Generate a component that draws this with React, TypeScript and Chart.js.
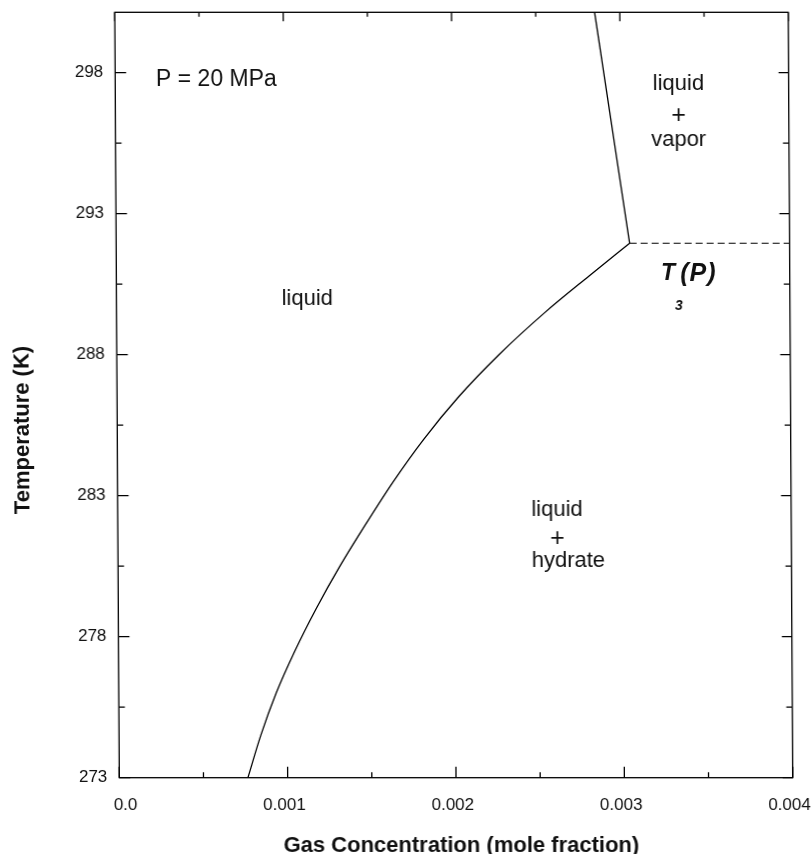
import React, { useEffect, useRef } from 'react';
import { Chart, registerables } from 'chart.js';

Chart.register(...registerables);

// Hydrate–liquid equilibrium curve (gas mole fraction vs temperature)
const hydrateConc = [0.000764, 0.000842, 0.000935, 0.001048, 0.001176, 0.001318, 0.001474, 0.001638, 0.00182, 0.002028, 0.00227, 0.002545, 0.00281, 0.00305];
const hydrateTemp = [273, 274.5, 276, 277.5, 279, 280.5, 282, 283.5, 285, 286.5, 288, 289.5, 290.8, 291.95];
// Liquid–vapor boundary
const vaporConc = [0.00285, 0.00305];
const vaporTemp = [300.14, 291.95];
// Three-phase temperature T3(P)
const tripleConc = [0.00305, 0.004];
const tripleTemp = [291.95, 291.95];

const xRange = [0, 0.004];
const yRange = [273, 300.14];
const xTicks = [0, 0.0005, 0.001, 0.0015, 0.002, 0.0025, 0.003, 0.0035, 0.004];
const xMajor = [0, 0.001, 0.002, 0.003, 0.004];
const xLabels = ['0.0', '0.001', '0.002', '0.003', '0.004'];
const yTicks = [273, 275.5, 278, 280.5, 283, 285.5, 288, 290.5, 293, 295.5, 298];
const yMajor = [273, 278, 283, 288, 293, 298];
const yLabels = ['273', '278', '283', '288', '293', '298'];

const xTitle = 'Gas Concentration (mole fraction)';
const yTitle = 'Temperature (K)';

const FONT = '"Liberation Sans", Arial, Helvetica, sans-serif';

const pts = (xs: number[], ys: number[]) => xs.map((v, i) => ({ x: v, y: ys[i] }));
const idx = (arr: number[], v: number) => arr.findIndex((a) => Math.abs(a - v) < 1e-9);

const framePlugin = {
  id: 'frameAndText',
  afterDraw(chart: any) {
    const { ctx, chartArea, scales } = chart;
    const { left, right, top, bottom } = chartArea;
    const xs = scales.x;
    const ys = scales.y;
    ctx.save();
    ctx.strokeStyle = '#000';
    ctx.lineWidth = 1.3;
    ctx.strokeRect(left, top, right - left, bottom - top);
    ctx.beginPath();
    xTicks.forEach((v) => {
      const px = xs.getPixelForValue(v);
      const major = idx(xMajor, v) >= 0;
      ctx.moveTo(px, bottom);
      ctx.lineTo(px, bottom - (major ? 11 : 5.5));
      ctx.moveTo(px, top);
      ctx.lineTo(px, top + (major ? 9 : 4.5));
    });
    yTicks.forEach((v) => {
      const py = ys.getPixelForValue(v);
      const major = idx(yMajor, v) >= 0;
      ctx.moveTo(left, py);
      ctx.lineTo(left + (major ? 11 : 6), py);
      ctx.moveTo(right, py);
      ctx.lineTo(right - (major ? 10 : 6), py);
    });
    ctx.stroke();

    ctx.fillStyle = '#111';
    // axis titles
    ctx.font = `bold 22px ${FONT}`;
    ctx.textAlign = 'center';
    ctx.textBaseline = 'alphabetic';
    ctx.fillText(xTitle, (left + right) / 2 + 5, 851.5);
    ctx.save();
    ctx.translate(24.5, 430);
    ctx.rotate(-Math.PI / 2);
    ctx.textBaseline = 'middle';
    ctx.fillText(yTitle, 0, 0);
    ctx.restore();

    const X = (v: number) => xs.getPixelForValue(v);
    const Y = (v: number) => ys.getPixelForValue(v);

    // region annotations
    ctx.textAlign = 'left';
    ctx.textBaseline = 'alphabetic';
    ctx.font = `23px ${FONT}`;
    ctx.fillText('P = 20 MPa', X(0.000242), Y(297.53));
    ctx.font = `22px ${FONT}`;
    ctx.fillText('liquid', X(0.000981), Y(289.77));
    ctx.fillText('liquid', X(0.002457), Y(282.29));
    ctx.fillText('hydrate', X(0.002457), Y(280.46));
    ctx.textAlign = 'center';
    ctx.fillText('liquid', X(0.003345), Y(297.37));
    ctx.fillText('vapor', X(0.003345), Y(295.41));
    ctx.font = `25px ${FONT}`;
    ctx.textBaseline = 'middle';
    ctx.fillText('+', X(0.003345), Y(296.47));
    ctx.fillText('+', X(0.002611), Y(281.46));

    // T3(P)
    ctx.textAlign = 'left';
    ctx.textBaseline = 'alphabetic';
    ctx.font = `italic bold 23px ${FONT}`;
    ctx.fillText('T', X(0.003235), Y(290.65));
    ctx.font = `italic bold 25px ${FONT}`;
    ctx.save();
    try { (ctx as any).letterSpacing = '1px'; } catch (e) {}
    ctx.fillText('(P)', X(0.003350), Y(290.62));
    ctx.restore();
    ctx.font = `italic bold 14px ${FONT}`;
    ctx.fillText('3', X(0.003317), Y(289.6));
    ctx.restore();
  },
};

export default function App() {
  const ref = useRef<HTMLCanvasElement | null>(null);
  useEffect(() => {
    if (!ref.current) return;
    const chart = new Chart(ref.current, {
      type: 'scatter',
      data: {
        datasets: [
          {
            label: 'hydrate',
            data: pts(hydrateConc, hydrateTemp),
            showLine: true,
            borderColor: '#000',
            borderWidth: 1.3,
            pointRadius: 0,
            cubicInterpolationMode: 'monotone',
          },
          {
            label: 'vapor',
            data: pts(vaporConc, vaporTemp),
            showLine: true,
            borderColor: '#000',
            borderWidth: 1.3,
            pointRadius: 0,
          },
          {
            label: 'T3',
            data: pts(tripleConc, tripleTemp),
            showLine: true,
            borderColor: '#000',
            borderWidth: 1.2,
            borderDash: [7, 4],
            pointRadius: 0,
          },
        ],
      },
      options: {
        responsive: false,
        animation: false,
        devicePixelRatio: 1,
        layout: { padding: { left: 0, top: 12.3, right: 18.3, bottom: 0 } },
        plugins: { legend: { display: false }, tooltip: { enabled: false }, title: { display: false } },
        scales: {
          x: {
            type: 'linear',
            min: xRange[0],
            max: xRange[1],
            grid: { display: false, drawTicks: false },
            border: { display: false },
            afterBuildTicks: (s: any) => { s.ticks = xTicks.map((v) => ({ value: v })); },
            afterFit: (s: any) => { s.height = 76.3; s.paddingLeft = 0; s.paddingRight = 0; },
            ticks: {
              autoSkip: false,
              maxRotation: 0,
              align: 'end',
              labelOffset: 18,
              padding: 17,
              color: '#111',
              font: { family: FONT, size: 17 },
              callback: (v: any) => { const i = idx(xMajor, Number(v)); return i >= 0 ? xLabels[i] : ''; },
            },
          },
          y: {
            type: 'linear',
            min: yRange[0],
            max: yRange[1],
            grid: { display: false, drawTicks: false },
            border: { display: false },
            afterBuildTicks: (s: any) => { s.ticks = yTicks.map((v) => ({ value: v })); },
            afterFit: (s: any) => { s.width = 119.3; s.paddingTop = 0; s.paddingBottom = 0; },
            ticks: {
              autoSkip: false,
              padding: 12,
              color: '#111',
              font: { family: FONT, size: 17 },
              callback: (v: any) => { const i = idx(yMajor, Number(v)); return i >= 0 ? yLabels[i] : ''; },
            },
          },
        },
      },
      plugins: [framePlugin],
    } as any);
    return () => chart.destroy();
  }, []);
  return (
    <div style={{ position: 'absolute', left: 0, top: 0, width: 811, height: 854, background: '#fff' }}>
      <canvas
        ref={ref}
        width={811}
        height={854}
        style={{ display: 'block', width: 811, height: 854, transform: 'skewX(0.337deg)', transformOrigin: '0px 777.7px' }}
      />
    </div>
  );
}
